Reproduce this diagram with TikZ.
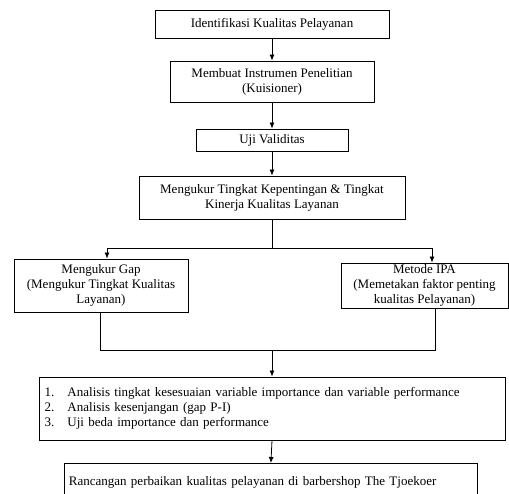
\documentclass[tikz,border=0pt]{standalone}
\usepackage{fontspec}
\setmainfont{Liberation Serif}
\usetikzlibrary{arrows.meta}
\begin{document}
\begin{tikzpicture}[x=1pt,y=-1pt,
  box/.style={draw,line width=0.8pt,rectangle,inner sep=0pt,align=center,
    font=\fontsize{13}{15}\selectfont},
  arr/.style={line width=0.8pt,-{Latex[length=6pt,width=5pt]}},
  ln/.style={line width=0.8pt}]
\useasboundingbox (0,0) rectangle (509,494);
\clip (0,0) rectangle (509,494);
\fill[white] (0,0) rectangle (509,494);

\node[box,minimum width=234pt,minimum height=28pt] (b1) at (272,24) {Identifikasi Kualitas Pelayanan};
\node[box,minimum width=204pt,minimum height=41pt] (b2) at (272,81.5) {Membuat Instrumen Penelitian\\(Kuisioner)};
\node[box,minimum width=152pt,minimum height=22pt] (b3) at (272,140) {Uji Validitas};
\node[box,minimum width=266pt,minimum height=43pt] (b4) at (272,197.5) {Mengukur Tingkat Kepentingan \& Tingkat\\Kinerja Kualitas Layanan};
\node[box,minimum width=174pt,minimum height=53pt] (b5) at (101,285.5) {Mengukur Gap\\(Mengukur Tingkat Kualitas\\Layanan)};
\node[box,minimum width=167pt,minimum height=45pt] (b6) at (424.5,285.5) {Metode IPA\\(Memetakan faktor penting\\kualitas Pelayanan)};
\node[box,minimum width=466pt,minimum height=63pt,align=left,text width=455pt] (b7) at (272,408.5)
  {\makebox[23pt][l]{1.}Analisis tingkat kesesuaian variable importance dan variable performance\\
   \makebox[23pt][l]{2.}Analisis kesenjangan (gap P-I)\\
   \makebox[23pt][l]{3.}Uji beda importance dan performance};
\node[box,anchor=north west,minimum width=413pt,minimum height=37pt,align=left,text width=404pt] (b8) at (64,463)
  {Rancangan perbaikan kualitas pelayanan di barbershop The Tjoekoer};

\coordinate (sp) at (272,248);
\coordinate (sl) at (107,248);
\coordinate (sr) at (432,248);
\coordinate (ml) at (100,350);
\coordinate (mr) at (435,350);
\coordinate (mc) at (272,350);

\draw[arr] (b1.south) -- (b2.north);
\draw[arr] (b2.south) -- (b3.north);
\draw[arr] (b3.south) -- (b4.north);
\draw[ln] (b4.south) -- (sp);
\draw[arr] (sp) -- (sl) -- (sl |- b5.north);
\draw[arr] (sp) -- (sr) -- (sr |- b6.north);
\draw[ln] (ml |- b5.south) -- (ml) -- (mr) -- (mr |- b6.south);
\draw[arr] (mc) -- (b7.north);
\draw[arr] (b7.south) -- (b8.north);
\end{tikzpicture}
\end{document}
